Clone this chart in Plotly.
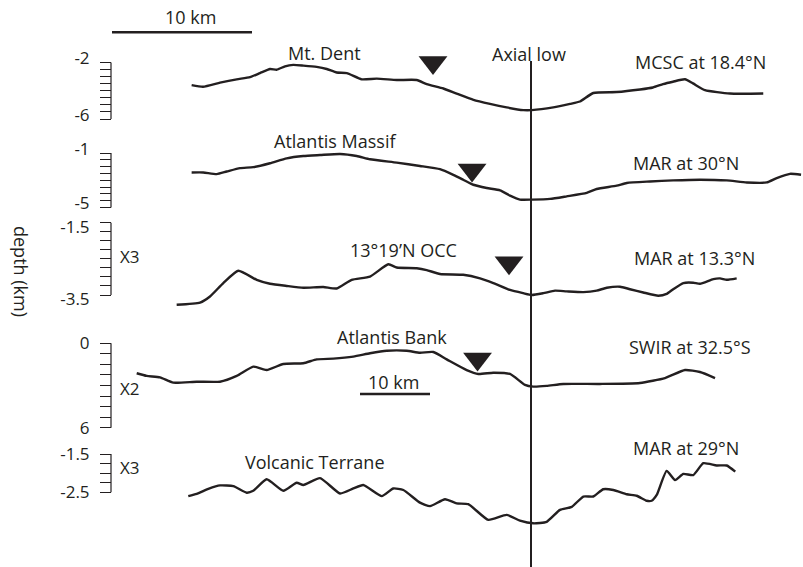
import plotly.graph_objects as go

W, H = 803, 567
INK = "#231f20"
FONT = "Open Sans"

# ---------------- data (distance in km from axial low, depth in km) ----------------
mcsc_x = [-24.24, -23.43, -22.21, -21.02, -20.07, -19.36, -18.64, -18.16, -17.57, -16.98,
          -16.26, -15.31, -14.59, -13.88, -13.16, -12.09, -11.02, -9.59, -8.16, -7.45,
          -6.26, -5.31, -4.11, -2.93, -1.74, -0.55, 0.05, 1.59, 2.79, 3.5,
          4.45, 6.12, 7.79, 8.71, 9.43, 10.14, 11.0, 11.57, 12.43, 14.21, 16.59]
mcsc_z = [-3.60, -3.72, -3.43, -3.19, -3.04, -2.75, -2.46, -2.51, -2.27, -2.17,
          -2.22, -2.31, -2.46, -2.71, -2.75, -3.19, -3.14, -3.24, -3.24, -3.53,
          -3.84, -4.20, -4.64, -4.93, -5.18, -5.37, -5.37, -5.18, -4.93, -4.76,
          -4.16, -4.09, -3.91, -3.77, -3.53, -3.36, -3.19, -3.48, -3.96, -4.20, -4.20]

mar30_x = [-24.24, -23.41, -22.45, -21.74, -20.79, -19.84, -18.64, -17.45, -16.26, -15.07,
           -13.64, -12.45, -11.5, -9.59, -7.93, -6.5, -5.55, -4.84, -4.12, -3.16,
           -2.21, -1.5, -0.79, 0.05, 1.36, 2.55, 3.98, 4.69, 6.12, 6.84,
           8.5, 10.16, 12.07, 13.98, 15.41, 16.84, 17.55, 18.5, 19.29]
mar30_z = [-2.43, -2.43, -2.55, -2.36, -2.11, -2.04, -1.75, -1.39, -1.22, -1.15,
           -1.07, -1.22, -1.46, -1.71, -1.95, -2.19, -2.60, -2.96, -3.33, -3.57,
           -3.74, -4.13, -4.42, -4.42, -4.37, -4.18, -3.93, -3.64, -3.40, -3.20,
           -3.09, -3.01, -2.96, -3.01, -3.16, -3.16, -2.84, -2.53, -2.60]

mar13_x = [-25.31, -23.64, -22.93, -21.98, -20.91, -19.59, -18.64, -17.45, -16.26, -14.84,
           -13.88, -12.81, -11.5, -10.19, -9.59, -8.16, -7.45, -6.5, -4.84, -3.64,
           -2.69, -1.5, -0.55, 0.05, 0.88, 1.71, 2.55, 3.74, 4.69, 5.41,
           6.36, 7.07, 8.02, 9.09, 9.69, 10.16, 10.88, 11.59, 12.07, 13.02,
           13.5, 13.98, 14.69]
mar13_z = [-3.77, -3.71, -3.54, -3.17, -2.83, -3.08, -3.19, -3.25, -3.30, -3.28,
           -3.32, -3.08, -2.99, -2.65, -2.74, -2.76, -2.81, -2.92, -2.94, -3.04,
           -3.17, -3.36, -3.45, -3.50, -3.45, -3.38, -3.40, -3.42, -3.38, -3.30,
           -3.27, -3.34, -3.43, -3.52, -3.47, -3.34, -3.17, -3.16, -3.19, -3.06,
           -3.04, -3.08, -3.04]

swir_x = [-56.33, -54.9, -53.0, -51.1, -47.76, -44.43, -42.04, -39.67, -37.76, -35.39,
          -32.53, -30.61, -28.24, -25.39, -23.0, -20.61, -17.76, -15.86, -13.96, -12.04,
          -9.19, -7.53, -5.39, -3.0, -0.86, 0.33, 2.24, 4.61, 9.86, 15.57,
          19.14, 22.0, 24.14, 26.29]
swir_depth = [2.13, 2.32, 2.42, 2.80, 2.73, 2.73, 2.32, 1.66, 1.90, 1.47,
              1.42, 1.14, 1.09, 0.95, 0.71, 0.53, 0.53, 0.67, 0.62, 1.14,
              1.90, 2.18, 2.09, 2.18, 2.96, 3.08, 3.03, 2.89, 2.89, 2.82,
              2.47, 1.90, 2.04, 2.47]

mar29_x = [-24.48, -23.88, -23.05, -22.21, -21.26, -20.31, -19.84, -18.88, -17.69, -16.74,
           -16.26, -15.07, -13.64, -12.69, -11.98, -10.66, -9.84, -9.12, -7.93, -7.21,
           -6.14, -5.31, -4.48, -3.05, -1.74, -0.79, 0.16, 1.12, 2.07, 2.91,
           3.74, 4.45, 5.16, 5.88, 6.84, 7.55, 8.26, 8.62, 8.98, 9.69,
           10.29, 10.88, 11.59, 12.31, 13.26, 13.98, 14.59]
mar29_z = [-2.60, -2.54, -2.41, -2.32, -2.34, -2.51, -2.46, -2.16, -2.46, -2.25,
           -2.31, -2.13, -2.53, -2.40, -2.31, -2.60, -2.40, -2.44, -2.77, -2.86,
           -2.68, -2.79, -2.81, -3.22, -3.09, -3.24, -3.31, -3.27, -2.96, -2.88,
           -2.61, -2.61, -2.42, -2.44, -2.55, -2.59, -2.72, -2.72, -2.57, -1.94,
           -2.18, -2.02, -2.05, -1.74, -1.80, -1.80, -1.96]

# detachment breakaway / termination markers (km, depth)
tri_x = [-7.0, -4.21, -1.57, -7.64]
tri_z = [-2.0, -2.24, -2.61, 1.12]

profile_names = ["MCSC at 18.4°N", "MAR at 30°N", "MAR at 13.3°N", "SWIR at 32.5°S", "MAR at 29°N"]
feature_names = ["Mt. Dent", "Atlantis Massif", "13°19’N OCC", "Atlantis Bank", "Volcanic Terrane"]

# tick values for each depth axis
ticks1 = [-2, -2.5, -3, -3.5, -4, -4.5, -5, -5.5, -6]
ticks2 = [-1, -1.5, -2, -2.5, -3, -3.5, -4, -4.5, -5]
ticks3 = [-1.5, -1.75, -2, -2.25, -2.5, -2.75, -3, -3.25, -3.5]
ticks4 = [0, 0.75, 1.5, 2.25, 3, 3.75, 4.5, 5.25, 6]
ticks5 = [-1.5, -1.75, -2, -2.25, -2.5]

# ---------------- layout helpers ----------------
AX_PX = 111  # x pixel of the depth axes
X_AXIAL = 531
PX_PER_KM = 14.0


def yaxis_cfg(ticks, p_first, p_last, top, bot, shift=0):
    v0, v1 = ticks[0], ticks[-1]
    s = (p_last - p_first) / (v1 - v0)  # pixels per unit (signed)
    f = lambda p: v0 + (p - p_first) / s
    text = [str(t) if i in (0, len(ticks) - 1) else "" for i, t in enumerate(ticks)]
    text = [t[:-2] if t.endswith(".0") else t for t in text]
    return dict(
        domain=[1 - bot / H, 1 - top / H],
        range=[f(bot), f(top)],
        anchor="free", position=AX_PX / W, side="left", automargin=False,
        showgrid=False, zeroline=False, showline=False,
        ticks="outside", ticklen=11, tickwidth=1, tickcolor=INK,
        tickvals=ticks, ticktext=text, ticklabelstandoff=7, ticklabelshift=shift,
        tickfont=dict(family=FONT, size=17, color=INK),
    )


fig = go.Figure()

series = [
    (mcsc_x, mcsc_z, "x", "y"),
    (mar30_x, mar30_z, "x", "y2"),
    (mar13_x, mar13_z, "x", "y3"),
    (swir_x, swir_depth, "x2", "y4"),
    (mar29_x, mar29_z, "x", "y5"),
]
for (xs, zs, xa, ya), name in zip(series, profile_names):
    fig.add_trace(go.Scatter(x=xs, y=zs, xaxis=xa, yaxis=ya, mode="lines", name=name,
                             line=dict(color=INK, width=2.4, shape="spline", smoothing=0.5),
                             showlegend=False, hoverinfo="skip"))

tri_axes = [("x", "y"), ("x", "y2"), ("x", "y3"), ("x2", "y4")]
for tx, tz, (xa, ya) in zip(tri_x, tri_z, tri_axes):
    fig.add_trace(go.Scatter(x=[tx], y=[tz], xaxis=xa, yaxis=ya, mode="markers",
                             marker=dict(symbol="triangle-down", size=25, color=INK, line_width=0),
                             showlegend=False, hoverinfo="skip"))

x_range = [-X_AXIAL / PX_PER_KM, (W - X_AXIAL) / PX_PER_KM]
layout = dict(
    width=W, height=H, autosize=False, margin=dict(l=0, r=0, t=0, b=0, pad=0),
    paper_bgcolor="white", plot_bgcolor="white", showlegend=False,
    xaxis=dict(range=x_range, domain=[0, 1], visible=False, anchor="y", automargin=False),
    xaxis2=dict(range=[x_range[0] * 2, x_range[1] * 2], overlaying="x", visible=False,
                anchor="y4", automargin=False),
    yaxis=yaxis_cfg(ticks1, 62.5, 119, 40, 125, shift=-4),
    yaxis2=yaxis_cfg(ticks2, 153, 207.5, 130, 215, shift=-4),
    yaxis3=yaxis_cfg(ticks3, 222.7, 295, 218, 315, shift=4),
    yaxis4=yaxis_cfg(ticks4, 343.3, 427.7, 320, 434),
    yaxis5=yaxis_cfg(ticks5, 454, 492.3, 440, 535),
)
fig.update_layout(**layout)

shapes = []
# axis spines
for ya, t in zip(["y", "y2", "y3", "y4", "y5"], [ticks1, ticks2, ticks3, ticks4, ticks5]):
    shapes.append(dict(type="line", xref="paper", yref=ya, x0=AX_PX / W, x1=AX_PX / W,
                       y0=t[0], y1=t[-1], line=dict(color=INK, width=1.2)))
# axial low line
shapes.append(dict(type="line", xref="x", yref="paper", x0=0, x1=0, y0=0, y1=1 - 61 / H,
                   line=dict(color=INK, width=2)))
# scale bars (10 km each, on the relevant horizontal scale)
bar_top_x0 = (112 - X_AXIAL) / PX_PER_KM
shapes.append(dict(type="line", xref="x", yref="paper", x0=bar_top_x0, x1=bar_top_x0 + 10,
                   y0=1 - 32.3 / H, y1=1 - 32.3 / H, line=dict(color=INK, width=2.5)))
bar_swir_x0 = (360 - X_AXIAL) / (PX_PER_KM / 2)
shapes.append(dict(type="line", xref="x2", yref="paper", x0=bar_swir_x0, x1=bar_swir_x0 + 10,
                   y0=1 - 394 / H, y1=1 - 394 / H, line=dict(color=INK, width=2.5)))
fig.update_layout(shapes=shapes)


def txt(s, xp, yp, size=18, **kw):
    d = dict(text=s, x=xp / W, y=1 - yp / H, xref="paper", yref="paper", showarrow=False,
             xanchor="center", yanchor="middle", font=dict(family=FONT, size=size, color=INK))
    d.update(kw)
    return d


ann = [
    txt("10 km", 190, 17),
    txt("10 km", 393, 382),
    txt("Axial low", 529, 54),
    txt(feature_names[0], 324, 53),
    txt(profile_names[0], 700, 62),
    txt(feature_names[1], 335, 141),
    txt(profile_names[1], 686, 163),
    txt(feature_names[2], 403, 250),
    txt(profile_names[2], 694, 258),
    txt(feature_names[3], 392, 337),
    txt(profile_names[3], 690, 347),
    txt(feature_names[4], 315, 462),
    txt(profile_names[4], 686, 448),
    txt("X3", 130, 257, size=17),
    txt("X2", 130, 388, size=17),
    txt("X3", 130, 467, size=17),
    txt("depth (km)", 21, 271, textangle=90),
]
fig.update_layout(annotations=ann)

fig.write_html("out.html", config={"responsive": False, "displayModeBar": False},
               post_script="document.body.style.margin='0px';")
